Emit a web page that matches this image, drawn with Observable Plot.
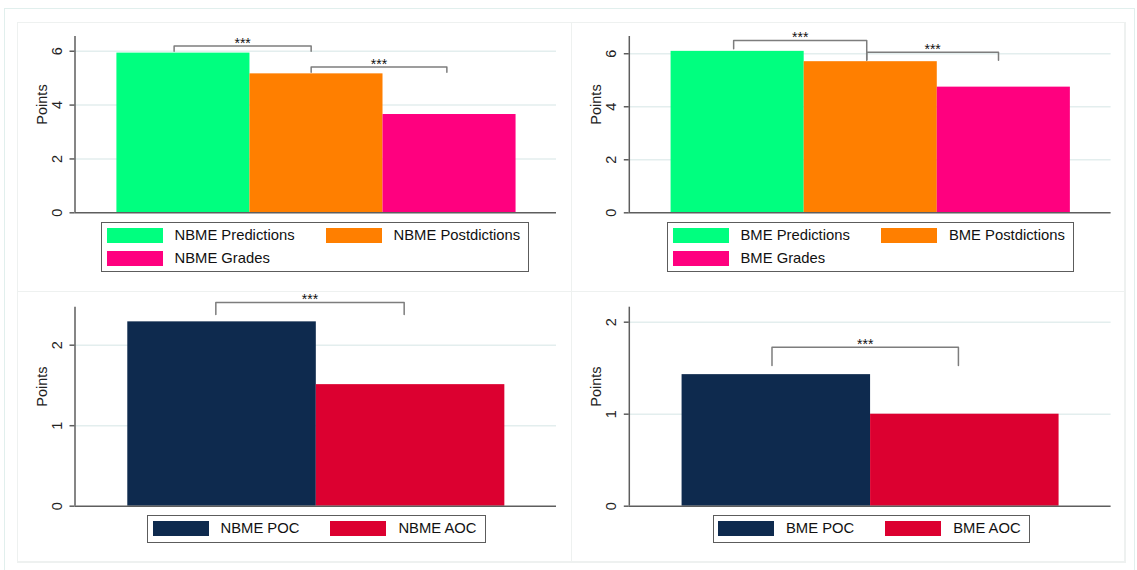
<!DOCTYPE html>
<html><head><meta charset="utf-8">
<script src="https://cdn.jsdelivr.net/npm/d3@7"></script>
<script src="https://cdn.jsdelivr.net/npm/@observablehq/plot@0.6"></script>
<style>
body{margin:0;background:#fff;font-family:"Liberation Sans",Arial,sans-serif;}
#root{position:relative;width:1137px;height:570px;overflow:hidden;background:#fff;}
.outer{position:absolute;left:4px;top:8px;width:1131px;height:580px;border:1.5px solid #e1efed;box-sizing:border-box;}
.line{position:absolute;background:#eef1f0;}
.panel{position:absolute;}
.legend{position:absolute;border:1.5px solid #5c5c5c;box-sizing:border-box;background:#fff;
  display:grid;grid-template-columns:56px auto 56px auto;column-gap:12px;row-gap:7.5px;
  padding:5px 8px 5.5px 4.5px;font-size:14.8px;color:#111;align-items:center;}
.legend .sw{height:15px;}
.legend .tx{white-space:nowrap;line-height:15px;}
.legend .tx.c1{padding-right:19px;}
</style></head>
<body><div id="root"></div>
<script>
// ---------- data ----------
const nbmeTopCats = ["NBME Predictions", "NBME Postdictions", "NBME Grades"];
const nbmeTopVals = [5.93, 5.16, 3.65];
const bmeTopCats = ["BME Predictions", "BME Postdictions", "BME Grades"];
const bmeTopVals = [6.09, 5.70, 4.74];
const nbmeBotCats = ["NBME POC", "NBME AOC"];
const nbmeBotVals = [2.29, 1.51];
const bmeBotCats = ["BME POC", "BME AOC"];
const bmeBotVals = [1.43, 1.00];
const topColors = ["#00ff7f", "#ff7f00", "#ff007f"];
const botColors = ["#0e2a4e", "#dc0030"];
const topTicks = [0, 2, 4, 6];
const botTicks = [0, 1, 2];
const yLabel = "Points";
const sigText = "***";
// significance brackets (x in bar units from first bar's left edge, y in points)
const nbmeTopBrackets = [
  {x1: 0.43, x2: 1.46, top: 6.19, left: 6.00, right: 6.00},
  {x1: 1.46, x2: 2.48, top: 5.41, left: 5.22, right: 5.22}
];
const bmeTopBrackets = [
  {x1: 0.47, x2: 1.47, top: 6.50, left: 6.19, right: 5.77},
  {x1: 1.47, x2: 2.46, top: 6.06, left: 5.75, right: 5.75}
];
const nbmeBotBrackets = [{x1: 0.467, x2: 1.466, top: 2.53, left: 2.38, right: 2.38}];
const bmeBotBrackets = [{x1: 0.477, x2: 1.466, top: 1.728, left: 1.53, right: 1.53}];

// ---------- layout ----------
const root = document.getElementById("root");
const outer = document.createElement("div"); outer.className = "outer"; root.appendChild(outer);
function hline(x, y, w) { const d = document.createElement("div"); d.className = "line"; Object.assign(d.style, {left: x + "px", top: y + "px", width: w + "px", height: "1.5px"}); root.appendChild(d); }
function vline(x, y, h) { const d = document.createElement("div"); d.className = "line"; Object.assign(d.style, {left: x + "px", top: y + "px", width: "1.5px", height: h + "px"}); root.appendChild(d); }
hline(16.5, 21.5, 1109); hline(16.5, 290.8, 1109); hline(16.5, 561, 1109);
vline(16.5, 21.5, 541); vline(570.8, 21.5, 541); vline(1124.3, 21.5, 541);

const FONT = "'Liberation Sans', Arial, sans-serif";

function panel(o) {
  const bars = o.cats.map((c, i) => ({cat: c, i, v: o.vals[i]}));
  const pts = o.brackets.flatMap((b, k) => [
    {k, x: b.x1, y: b.left}, {k, x: b.x1, y: b.top}, {k, x: b.x2, y: b.top}, {k, x: b.x2, y: b.right}
  ]);
  const svg = Plot.plot({
    width: o.width, height: o.height,
    marginLeft: o.mL, marginRight: o.mR, marginTop: o.mT, marginBottom: o.mB,
    x: {domain: o.xDomain, axis: null},
    y: {domain: [0, o.yMax], axis: null},
    color: {domain: o.cats, range: o.colors},
    style: {fontFamily: FONT, fontSize: "14px", background: "transparent", overflow: "visible", color: "#222"},
    marks: [
      Plot.ruleY(o.ticks.filter(t => t > 0), {stroke: "#e3eeee", strokeWidth: 1.5}),
      Plot.rectY(bars, {x1: "i", x2: d => d.i + 1, y1: 0, y2: "v", fill: "cat"}),
      Plot.ruleX([o.xDomain[0]], {stroke: "#5e5e5e", strokeWidth: 1.5}),
      Plot.ruleY([0], {stroke: "#5e5e5e", strokeWidth: 1.5}),
      Plot.axisY({ticks: o.ticks, tickSize: 5, tickPadding: 8, tickRotate: -90, stroke: "#5e5e5e", fill: "#222", strokeWidth: 1.5, fontSize: 14.5, label: null, tickFormat: d => String(d)}),
      Plot.text([yLabel], {text: d => d, frameAnchor: "left", dx: -33, rotate: -90, fontSize: 14.5, fill: "#222"}),
      Plot.line(pts, {x: "x", y: "y", z: "k", stroke: "#7d7d7d", strokeWidth: 1.5}),
      Plot.text(o.brackets, {x: d => (d.x1 + d.x2) / 2, y: "top", text: () => sigText, lineAnchor: "bottom", dy: 1.5, fontSize: 14, fill: "#111"})
    ]
  });
  const div = document.createElement("div");
  div.className = "panel";
  Object.assign(div.style, {left: o.left + "px", top: o.top + "px"});
  div.appendChild(svg);
  root.appendChild(div);

  const lg = document.createElement("div");
  lg.className = "legend";
  Object.assign(lg.style, {left: o.lgLeft + "px", top: o.lgTop + "px"});
  o.cats.forEach((c, i) => {
    const sw = document.createElement("div"); sw.className = "sw"; sw.style.background = o.colors[i];
    const tx = document.createElement("div"); tx.className = "tx" + (i % 2 === 0 ? " c1" : ""); tx.textContent = c;
    lg.appendChild(sw); lg.appendChild(tx);
  });
  root.appendChild(lg);
}

panel({left: 17, top: 22, width: 554, height: 269, mL: 57.5, mR: 15, mT: 14, mB: 78.7,
  xDomain: [-0.315, 3.304], yMax: 6.547, cats: nbmeTopCats, vals: nbmeTopVals, colors: topColors,
  ticks: topTicks, brackets: nbmeTopBrackets, lgLeft: 101, lgTop: 222});
panel({left: 571, top: 22, width: 554, height: 269, mL: 57.8, mR: 14.4, mT: 14, mB: 78.7,
  xDomain: [-0.314, 3.306], yMax: 6.65, cats: bmeTopCats, vals: bmeTopVals, colors: topColors,
  ticks: topTicks, brackets: bmeTopBrackets, lgLeft: 667, lgTop: 222});
panel({left: 17, top: 291, width: 554, height: 271, mL: 57.5, mR: 15, mT: 15.7, mB: 56.3,
  xDomain: [-0.28, 2.274], yMax: 2.472, cats: nbmeBotCats, vals: nbmeBotVals, colors: botColors,
  ticks: botTicks, brackets: nbmeBotBrackets, lgLeft: 147, lgTop: 515.3});
panel({left: 571, top: 291, width: 554, height: 271, mL: 57.8, mR: 14.4, mT: 15.7, mB: 56.3,
  xDomain: [-0.28, 2.276], yMax: 2.163, cats: bmeBotCats, vals: bmeBotVals, colors: botColors,
  ticks: botTicks, brackets: bmeBotBrackets, lgLeft: 712.5, lgTop: 515.3});
</script>
</body></html>
